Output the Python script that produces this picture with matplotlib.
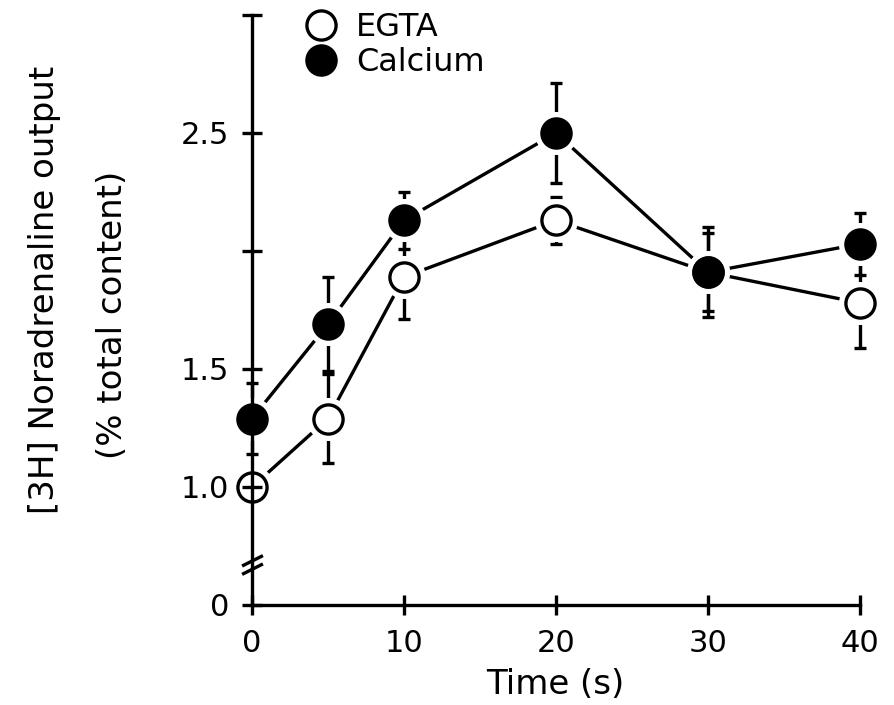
import matplotlib
matplotlib.use("Agg")
import matplotlib.pyplot as plt
from matplotlib.lines import Line2D
from matplotlib.path import Path

# ---- data ----
time_s = [0, 5, 10, 20, 30, 40]
egta = [1.00, 1.29, 1.89, 2.13, 1.91, 1.78]
egta_err = [0.03, 0.19, 0.18, 0.10, 0.165, 0.19]
calcium = [1.29, 1.69, 2.13, 2.50, 1.91, 2.03]
calcium_err = [0.15, 0.20, 0.12, 0.21, 0.19, 0.13]

x_ticks = [0, 10, 20, 30, 40]
x_ticklabels = ["0", "10", "20", "30", "40"]
# broken y axis: the "0" tick sits just below the break
y_ticks = [0.5, 1.0, 1.5, 2.0, 2.5, 3.0]
y_ticklabels = ["0", "1.0", "1.5", "", "2.5", ""]
y_break = 0.67

FS = 22
LW = 2.4
MS = 21
HALO = 31

plt.rcParams["font.family"] = ["DejaVu Sans"]

fig = plt.figure(figsize=(8.94, 7.05), dpi=100)
ax = fig.add_axes([252 / 894, 100 / 705, 608 / 894, 590 / 705])

ax.set_xlim(0, 40)
ax.set_ylim(0.5, 3.0)

for s in ["top", "right"]:
    ax.spines[s].set_visible(False)
for s in ["left", "bottom"]:
    ax.spines[s].set_linewidth(LW)
    ax.spines[s].set_zorder(8)
ax.spines["bottom"].set_bounds(0, 40)
ax.spines["left"].set_bounds(0.5, 3.0)

ax.set_xticks(x_ticks)
ax.set_xticklabels(x_ticklabels)
ax.set_yticks(y_ticks)
ax.set_yticklabels(y_ticklabels)
ax.tick_params(axis="both", direction="inout", length=15, width=LW,
               labelsize=FS, color="black")
ax.tick_params(axis="x", pad=10)
ax.tick_params(axis="y", pad=9)
ax.xaxis.set_zorder(8)
ax.yaxis.set_zorder(8)

# connecting lines
ax.plot(time_s, egta, color="black", lw=LW, zorder=1, clip_on=False)
ax.plot(time_s, calcium, color="black", lw=LW, zorder=1, clip_on=False)

# error bars
for vals, err in [(egta, egta_err), (calcium, calcium_err)]:
    eb = ax.errorbar(time_s, vals, yerr=err, fmt="none", ecolor="black",
                     elinewidth=LW, capsize=4.3, capthick=LW, zorder=2)
    for art in list(eb.lines[1]) + list(eb.lines[2]):
        art.set_clip_on(False)

# white halos for the gaps around markers
ax.plot(time_s, egta, ls="none", marker="o", ms=HALO, mfc="white", mec="none",
        zorder=3, clip_on=False)
ax.plot(time_s, calcium, ls="none", marker="o", ms=HALO, mfc="white", mec="none",
        zorder=3, clip_on=False)

# markers
ax.plot(time_s, egta, ls="none", marker="o", ms=MS, mfc="white", mec="black",
        mew=2.4, zorder=4, clip_on=False)
ax.plot(time_s, calcium, ls="none", marker="o", ms=MS, mfc="black", mec="black",
        mew=2.4, zorder=5, clip_on=False)

# axis break marks
brk = Path([(-1, -0.05), (1, 0.95), (-1, -0.85), (1, 0.15)],
           [Path.MOVETO, Path.LINETO, Path.MOVETO, Path.LINETO])
ax.plot([0], [y_break], ls="none", marker=brk, ms=15, mec="black", mew=LW,
        zorder=9, clip_on=False)

# axis labels
fig.text(45 / 894, 1 - 290 / 705, "[3H] Noradrenaline output", rotation=90,
         ha="center", va="center", fontsize=24.5)
fig.text(113 / 894, 1 - 315 / 705, "(% total content)", rotation=90,
         ha="center", va="center", fontsize=24.5)
fig.text(555 / 894, 1 - 685 / 705, "Time (s)", ha="center", va="center",
         fontsize=24.5)

# legend
handles = [
    Line2D([], [], ls="none", marker="o", ms=MS, mfc="white", mec="black", mew=2.4),
    Line2D([], [], ls="none", marker="o", ms=MS, mfc="black", mec="black", mew=2.4),
]
ax.legend(handles, ["EGTA", "Calcium"], loc="upper left",
          bbox_to_anchor=(305 / 894, 1 - 12 / 705), bbox_transform=fig.transFigure,
          frameon=False, fontsize=23, handlelength=1.0, handletextpad=0.6,
          labelspacing=0.12, borderpad=0, borderaxespad=0)

fig.savefig("out.png", dpi=100)
